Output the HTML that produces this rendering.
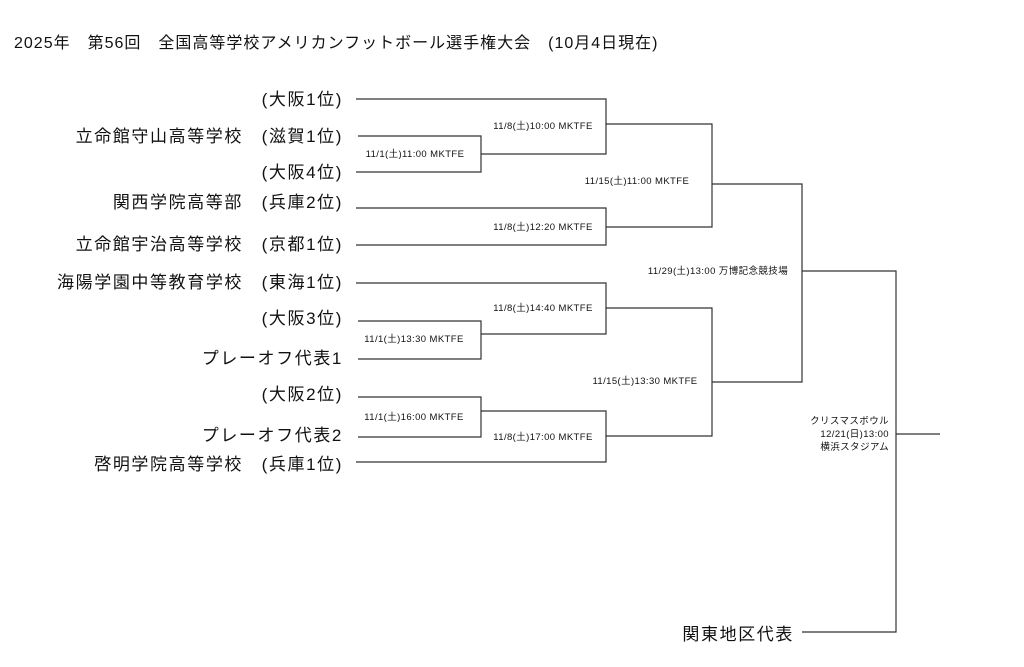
<!DOCTYPE html>
<html><head><meta charset="utf-8"><style>
html,body{margin:0;padding:0;background:#fff;}
svg{display:block;}
text{font-family:"Liberation Sans","Noto Sans CJK JP",sans-serif;fill:#111;}
.t{font-size:17px;letter-spacing:1.6px;}
.s{font-size:9.5px;letter-spacing:0.4px;}
</style></head><body>
<svg width="1024" height="667" viewBox="0 0 1024 667">
<text x="14" y="48" style="font-size:16px;letter-spacing:1px">2025年　第56回　全国高等学校アメリカンフットボール選手権大会　(10月4日現在)</text>
<g class="t" text-anchor="end">
<text x="343" y="105">(大阪1位)</text>
<text x="343" y="142">立命館守山高等学校　(滋賀1位)</text>
<text x="343" y="178">(大阪4位)</text>
<text x="343" y="208">関西学院高等部　(兵庫2位)</text>
<text x="343" y="250">立命館宇治高等学校　(京都1位)</text>
<text x="343" y="288">海陽学園中等教育学校　(東海1位)</text>
<text x="343" y="324">(大阪3位)</text>
<text x="343" y="364">プレーオフ代表1</text>
<text x="343" y="400">(大阪2位)</text>
<text x="343" y="441">プレーオフ代表2</text>
<text x="343" y="470">啓明学院高等学校　(兵庫1位)</text>
<text x="794" y="640">関東地区代表</text>
</g>
<g stroke="#333" stroke-width="1.2" fill="none">
<polyline points="356,99 606,99 606,154 481,154"/>
<polyline points="358,136 481,136 481,172 356,172"/>
<polyline points="606,124 712,124 712,227 606,227"/>
<polyline points="356,208 606,208 606,245 356,245"/>
<polyline points="712,184 802,184 802,382 712,382"/>
<polyline points="356,283 606,283 606,334 481,334"/>
<polyline points="358,321 481,321 481,359 358,359"/>
<polyline points="606,308 712,308 712,436 606,436"/>
<polyline points="358,397 481,397 481,437 358,437"/>
<polyline points="481,411 606,411 606,462 356,462"/>
<polyline points="802,271 896,271 896,632 802,632"/>
<line x1="896" y1="434" x2="940" y2="434"/>
</g>
<g class="s" text-anchor="middle">
<text x="543" y="129">11/8(土)10:00 MKTFE</text>
<text x="415" y="157">11/1(土)11:00 MKTFE</text>
<text x="637" y="184">11/15(土)11:00 MKTFE</text>
<text x="543" y="230">11/8(土)12:20 MKTFE</text>
<text x="718" y="274">11/29(土)13:00 万博記念競技場</text>
<text x="543" y="311">11/8(土)14:40 MKTFE</text>
<text x="414" y="342">11/1(土)13:30 MKTFE</text>
<text x="645" y="384">11/15(土)13:30 MKTFE</text>
<text x="414" y="420">11/1(土)16:00 MKTFE</text>
<text x="543" y="440">11/8(土)17:00 MKTFE</text>
</g>
<g class="s" text-anchor="end">
<text x="889" y="424">クリスマスボウル</text>
<text x="889" y="437">12/21(日)13:00</text>
<text x="889" y="450">横浜スタジアム</text>
</g>
</svg>
</body></html>
